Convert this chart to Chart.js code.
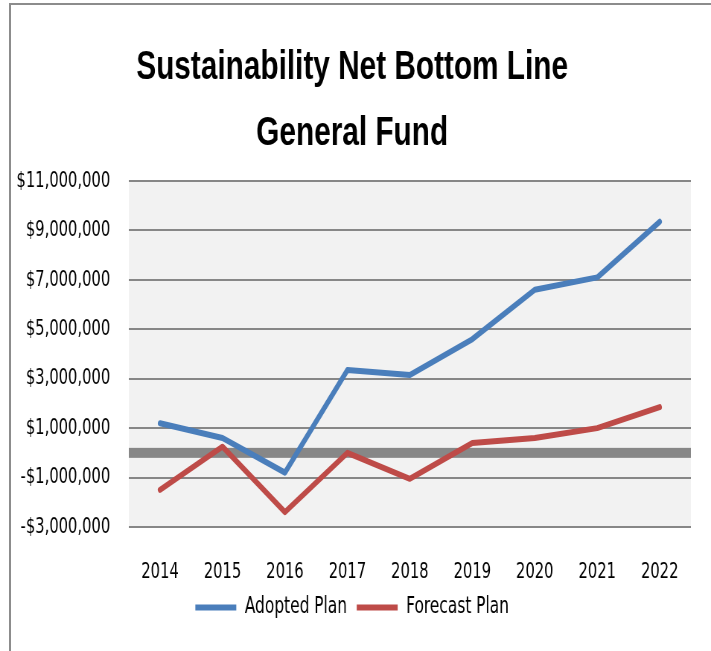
<!DOCTYPE html>
<html>
<head>
<meta charset="utf-8">
<script src="https://cdn.jsdelivr.net/npm/chart.js@4/dist/chart.umd.min.js"></script>
<style>
  html, body { margin: 0; padding: 0; background: #ffffff; }
  #wrap { position: relative; width: 711px; height: 651px; overflow: hidden; }
  #frame {
    position: absolute; left: 9px; top: 3px; right: -4px; bottom: -4px;
    border-left: 2px solid #8c8c8c; border-top: 2px solid #8c8c8c;
    pointer-events: none;
  }
</style>
</head>
<body>
<div id="wrap">
  <!-- drawn wide, shown narrow: gives the tall condensed lettering -->
  <canvas id="fundChart" width="955" height="651" style="display:block;width:711px;height:651px;"></canvas>
  <div id="frame"></div>
</div>
<script>
// =====================================
// DATA
// =====================================

const years = ["2014", "2015", "2016", "2017", "2018", "2019", "2020", "2021", "2022"];

const adoptedPlan = [1200000, 600000, -800000, 3350000, 3150000, 4600000, 6600000, 7100000, 9350000];

const forecastPlan = [-1500000, 250000, -2400000, 0, -1050000, 400000, 600000, 1000000, 1850000];

const yMin = -3000000;
const yMax = 11000000;
const yStep = 2000000;

const titleLines = ["Sustainability Net Bottom Line", "General Fund"];


// =====================================
// PLUGINS
// =====================================

// grey plot background
const plotBackground = {
  id: "plotBackground",
  beforeDraw(chart) {
    const {ctx, chartArea} = chart;
    ctx.save();
    ctx.fillStyle = "#f2f2f2";
    ctx.fillRect(chartArea.left, chartArea.top, chartArea.width, chartArea.height);
    ctx.restore();
  }
};

// heavy band on the zero value
const zeroBand = {
  id: "zeroBand",
  beforeDatasetsDraw(chart) {
    const {ctx, chartArea, scales} = chart;
    const y = scales.y.getPixelForValue(0);
    ctx.save();
    ctx.fillStyle = "#878787";
    ctx.fillRect(chartArea.left, y - 5, chartArea.width, 10);
    ctx.restore();
  }
};


// =====================================
// CHART
// =====================================

const narrow = '"Liberation Sans Narrow", "DejaVu Sans Condensed", sans-serif';

function money(v) {
  const s = Math.abs(v).toLocaleString("en-US");
  return v < 0 ? "-$" + s : "$" + s;
}

new Chart(document.getElementById("fundChart"), {
  type: "line",
  data: {
    labels: years,
    datasets: [
      {
        label: "Adopted Plan",
        data: adoptedPlan,
        borderColor: "#4a7ebb",
        backgroundColor: "#4a7ebb",
        borderWidth: 6,
        borderCapStyle: "round",
        borderJoinStyle: "round",
        pointRadius: 0,
        tension: 0
      },
      {
        label: "Forecast Plan",
        data: forecastPlan,
        borderColor: "#be4b48",
        backgroundColor: "#be4b48",
        borderWidth: 6,
        borderCapStyle: "round",
        borderJoinStyle: "round",
        pointRadius: 0,
        tension: 0
      }
    ]
  },
  options: {
    responsive: false,
    animation: false,
    devicePixelRatio: 1,
    layout: {
      padding: { left: 18, right: 27, top: 0, bottom: 22 }
    },
    scales: {
      x: {
        offset: true,
        // grid hidden, but the tick length still pushes the labels down
        grid: { display: false, drawTicks: true, tickLength: 34 },
        border: { display: false },
        ticks: {
          color: "#000000",
          padding: 0,
          maxRotation: 0,
          font: { family: narrow, size: 22, lineHeight: 1 }
        }
      },
      y: {
        min: yMin,
        max: yMax,
        afterFit(scale) {
          scale.width = 155;
        },
        grid: { color: "#878787", lineWidth: 2, drawTicks: false },
        border: { display: false },
        ticks: {
          stepSize: yStep,
          color: "#000000",
          padding: 25,
          font: { family: narrow, size: 22 },
          callback: v => money(v)
        }
      }
    },
    plugins: {
      title: {
        display: true,
        text: titleLines,
        color: "#000000",
        font: { family: '"Liberation Sans", Arial, sans-serif', size: 40, weight: "bold", lineHeight: 1.65 },
        padding: { top: 35, bottom: 14 }
      },
      legend: {
        position: "bottom",
        labels: {
          color: "#000000",
          usePointStyle: true,
          pointStyle: "line",
          pointStyleWidth: 55,
          padding: 13,
          font: { family: narrow, size: 23 }
        }
      },
      tooltip: { enabled: false }
    }
  },
  plugins: [plotBackground, zeroBand]
});
</script>
</body>
</html>
